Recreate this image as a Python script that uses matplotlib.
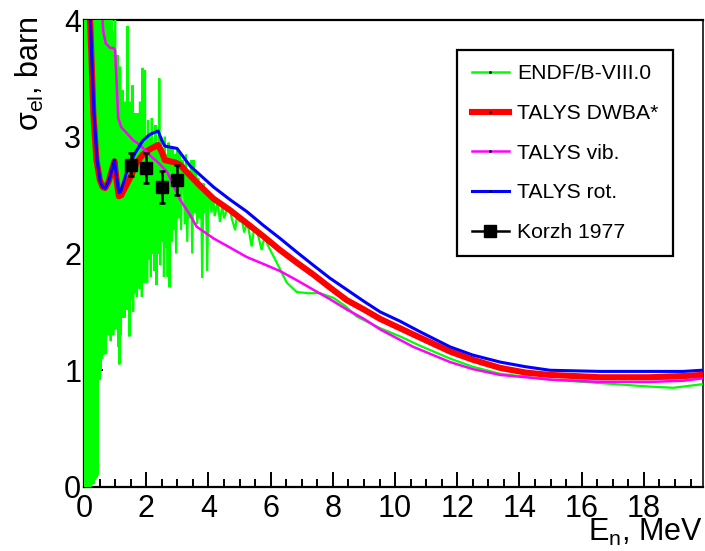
import matplotlib
matplotlib.use("Agg")
import matplotlib.pyplot as plt
from matplotlib.lines import Line2D
from matplotlib.ticker import MultipleLocator

plt.rcParams['font.family'] = ['Liberation Sans', 'DejaVu Sans']
plt.rcParams['mathtext.fontset'] = 'custom'
plt.rcParams['mathtext.rm'] = 'Liberation Sans'
plt.rcParams['mathtext.it'] = 'Liberation Sans:italic'

# ---------------- data ----------------
endf_E = [0.00, 0.02, 0.04, 0.06, 0.08, 0.10, 0.12, 0.14, 0.16, 0.18, 0.20, 0.22,
          0.24, 0.26, 0.28, 0.30, 0.32, 0.34, 0.36, 0.38, 0.40, 0.42, 0.44, 0.46,
          0.48, 0.50, 0.52, 0.54, 0.56, 0.58, 0.60, 0.62, 0.64, 0.66, 0.68, 0.70,
          0.72, 0.74, 0.76, 0.78, 0.80, 0.82, 0.84, 0.86, 0.88, 0.90, 0.92, 0.94,
          0.96, 0.98, 1.00, 1.02, 1.04, 1.06, 1.08, 1.10, 1.12, 1.14, 1.16, 1.18,
          1.20, 1.22, 1.24, 1.26, 1.28, 1.30, 1.32, 1.34, 1.36, 1.38, 1.40, 1.42,
          1.44, 1.46, 1.48, 1.50, 1.52, 1.54, 1.56, 1.58, 1.60, 1.62, 1.64, 1.66,
          1.68, 1.70, 1.72, 1.74, 1.76, 1.78, 1.80, 1.82, 1.84, 1.86, 1.88, 1.90,
          1.92, 1.94, 1.96, 1.98, 2.00, 2.03, 2.06, 2.09, 2.12, 2.15, 2.18, 2.21,
          2.24, 2.27, 2.30, 2.33, 2.36, 2.39, 2.42, 2.45, 2.48, 2.51, 2.54, 2.57,
          2.60, 2.63, 2.66, 2.69, 2.72, 2.75, 2.78, 2.81, 2.84, 2.88, 2.92, 2.96,
          3.00, 3.04, 3.08, 3.12, 3.16, 3.20, 3.24, 3.28, 3.32, 3.36, 3.40, 3.44,
          3.48, 3.52, 3.56, 3.60, 3.64, 3.68, 3.72, 3.76, 3.80, 3.84, 3.88, 3.92,
          3.96, 4.00, 4.05, 4.10, 4.15, 4.20, 4.30, 4.37, 4.45, 4.50, 4.60, 4.69,
          4.75, 4.86, 4.92, 5.00, 5.07, 5.15, 5.25, 5.39, 5.47, 5.55, 5.63, 5.71,
          5.80, 5.93, 6.20, 6.52, 6.84, 7.20, 7.59, 8.02, 8.40, 8.77, 9.52, 10.16,
          10.8, 11.77, 12.5, 13.38, 14.98, 16.59, 18.2, 18.95, 19.86]
endf_xs = [0.00, 4.60, 0.00, 4.60, 0.02, 4.60, 0.00, 4.60, 0.03, 4.60, 0.00, 4.60,
           0.02, 4.60, 0.05, 4.60, 0.03, 4.60, 0.06, 4.60, 0.08, 4.60, 0.10, 4.60,
           4.40, 0.92, 4.20, 1.00, 4.30, 1.10, 3.90, 1.13, 4.20, 1.20, 3.80, 1.14,
           4.10, 1.35, 3.60, 1.30, 4.00, 1.45, 3.70, 1.25, 4.10, 1.50, 3.50, 1.30,
           3.90, 1.60, 4.00, 1.35, 3.40, 1.50, 3.70, 1.20, 3.30, 1.05, 3.60, 1.30,
           3.20, 1.45, 3.40, 1.60, 3.00, 1.45, 3.30, 1.70, 2.90, 1.52, 3.95, 1.80,
           3.10, 1.29, 3.30, 1.60, 3.00, 1.75, 3.44, 1.50, 3.10, 1.66, 3.20, 1.90,
           3.00, 1.63, 3.20, 1.85, 2.90, 1.70, 3.30, 1.90, 3.00, 1.63, 3.59, 1.80,
           3.10, 1.75, 3.57, 1.90, 3.00, 1.75, 3.14, 1.95, 3.00, 1.80, 3.16, 2.00,
           2.95, 1.85, 3.10, 1.73, 2.90, 2.00, 3.50, 1.90, 3.00, 2.10, 2.90, 1.80,
           3.00, 2.05, 2.85, 1.80, 2.95, 1.71, 2.90, 2.10, 2.90, 2.20, 2.85, 2.00,
           2.90, 2.30, 2.86, 2.20, 2.80, 2.75, 2.25, 2.85, 2.10, 2.70, 2.30, 2.80,
           2.00, 2.80, 2.35, 2.70, 2.25, 2.65, 2.30, 2.60, 1.79, 2.60, 2.35, 2.55,
           1.85, 2.50, 2.48, 2.35, 2.50, 2.32, 2.45, 2.27, 2.42, 2.30, 2.38, 2.39,
           2.30, 2.20, 2.33, 2.27, 2.30, 2.18, 2.27, 2.06, 2.22, 2.20, 2.12, 2.03,
           2.14, 2.06, 1.92, 1.75, 1.67, 1.66, 1.66, 1.62, 1.55, 1.46, 1.36, 1.29,
           1.21, 1.10, 1.03, 0.97, 0.92, 0.89, 0.86, 0.85, 0.88]

dwba_E = [0.19, 0.25, 0.30, 0.40, 0.51, 0.60, 0.68, 0.80, 0.90, 0.98, 1.05, 1.12,
          1.20, 1.35, 1.54, 1.70, 1.90, 2.10, 2.38, 2.50, 2.60, 2.93, 3.09, 3.40,
          3.73, 4.16, 4.70, 5.23, 5.80, 6.30, 6.85, 7.37, 7.90, 8.45, 9.00, 9.52,
          10.16, 10.8, 11.77, 12.5, 13.38, 14.2, 14.98, 16.59, 18.2, 19.26, 19.86]
dwba_xs = [4.05, 3.60, 3.20, 2.80, 2.63, 2.57, 2.56, 2.62, 2.72, 2.79, 2.62, 2.49,
           2.50, 2.58, 2.68, 2.78, 2.85, 2.89, 2.93, 2.87, 2.80, 2.78, 2.76, 2.67,
           2.58, 2.47, 2.37, 2.26, 2.14, 2.03, 1.92, 1.82, 1.71, 1.60, 1.52, 1.44,
           1.36, 1.28, 1.16, 1.09, 1.02, 0.98, 0.96, 0.94, 0.94, 0.95, 0.96]

vib_E = [0.58, 0.62, 0.70, 0.84, 0.95, 1.00, 1.05, 1.10, 1.20, 1.38, 1.58, 1.80,
         2.12, 2.38, 2.67, 3.09, 3.41, 3.62, 4.16, 4.70, 5.23, 5.77, 6.30, 6.85,
         7.37, 7.90, 8.45, 9.00, 9.52, 10.16, 10.59, 11.77, 12.5, 13.38, 14.2,
         14.98, 16.59, 18.2, 19.26, 19.86]
vib_xs = [4.05, 3.90, 3.80, 3.76, 3.76, 3.74, 3.45, 3.16, 3.08, 3.03, 2.97, 2.93,
          2.84, 2.78, 2.70, 2.46, 2.33, 2.23, 2.13, 2.05, 1.97, 1.91, 1.85, 1.77,
          1.69, 1.61, 1.52, 1.44, 1.35, 1.26, 1.20, 1.07, 1.01, 0.96, 0.94,
          0.92, 0.90, 0.90, 0.91, 0.93]

rot_E = [0.20, 0.26, 0.32, 0.42, 0.52, 0.60, 0.68, 0.80, 0.90, 0.98, 1.05, 1.12,
         1.18, 1.35, 1.50, 1.64, 1.90, 2.12, 2.38, 2.50, 2.60, 2.99, 3.41, 4.16,
         4.70, 5.23, 5.77, 6.30, 6.85, 7.37, 7.90, 8.45, 9.00, 9.52, 10.16, 10.8,
         11.77, 12.5, 13.38, 14.2, 14.98, 16.59, 18.2, 19.26, 19.86]
rot_xs = [4.05, 3.60, 3.20, 2.80, 2.62, 2.57, 2.56, 2.62, 2.72, 2.80, 2.65, 2.52,
          2.53, 2.68, 2.78, 2.86, 2.97, 3.02, 3.05, 2.97, 2.92, 2.90, 2.75, 2.57,
          2.46, 2.36, 2.24, 2.13, 2.01, 1.90, 1.79, 1.69, 1.59, 1.50, 1.42, 1.33,
          1.20, 1.13, 1.07, 1.03, 1.00, 0.99, 0.99, 0.99, 1.00]

korzh_E = [1.5, 2.0, 2.5, 3.0]
korzh_xs = [2.76, 2.73, 2.57, 2.63]
korzh_err = [0.10, 0.13, 0.14, 0.13]

labels = ["ENDF/B-VIII.0", "TALYS DWBA*", "TALYS vib.", "TALYS rot.", "Korzh 1977"]
colors = ["#00ff00", "#ff0000", "#ff00ff", "#0000ff", "#000000"]
x_ticks = [0, 2, 4, 6, 8, 10, 12, 14, 16, 18]
y_ticks = [0, 1, 2, 3, 4]

# ---------------- figure ----------------
fig = plt.figure(figsize=(7.05, 5.51), dpi=100)
ax = fig.add_axes([84 / 705, 1 - 487 / 551, 619 / 705, 467 / 551])

ax.plot(endf_E, endf_xs, color=colors[0], lw=1.6, zorder=2, solid_joinstyle='miter')
ax.plot(dwba_E, dwba_xs, color=colors[1], lw=4.4, zorder=3)
ax.plot(vib_E, vib_xs, color=colors[2], lw=1.8, zorder=4)
ax.plot(rot_E, rot_xs, color=colors[3], lw=2.2, zorder=5)
ax.errorbar(korzh_E, korzh_xs, yerr=korzh_err, fmt='s', color='black',
            ms=8.5, elinewidth=1.8, capsize=2.2, capthick=1.8, zorder=6)

ax.set_xlim(0, 19.9)
ax.set_ylim(0, 4)
ax.set_xticks(x_ticks)
ax.set_yticks(y_ticks)
ax.xaxis.set_minor_locator(MultipleLocator(0.5))
ax.yaxis.set_minor_locator(MultipleLocator(0.2))
ax.tick_params(axis='both', which='both', direction='in', top=False, right=False,
               labelsize=22, width=1.4, color='black')
ax.tick_params(axis='x', which='major', length=11, pad=5)
ax.tick_params(axis='x', which='minor', length=5.5)
ax.tick_params(axis='y', which='major', length=14, pad=2)
ax.tick_params(axis='y', which='minor', length=7)
ax.set_axisbelow(True)
for side in ['left', 'bottom', 'top']:
    ax.spines[side].set_linewidth(1.6)
    ax.spines[side].set_color('black')
ax.spines['right'].set_linewidth(1.4)
ax.spines['right'].set_color('#333333')
for sp in ax.spines.values():
    sp.set_zorder(1)

fig.text(30 / 705, 1 - 16 / 551, r'σ$_{\rm el}$, barn', rotation=90,
         ha='center', va='top', fontsize=22)
fig.text(703 / 705, 1 - 548 / 551, r'E$_{\rm n}$, MeV', ha='right', va='bottom',
         fontsize=22)

handles = [
    Line2D([], [], color=colors[0], lw=1.8, marker='.', ms=2, mfc='k', mec='k'),
    Line2D([], [], color=colors[1], lw=4.4, marker='.', ms=2, mfc='k', mec='k'),
    Line2D([], [], color=colors[2], lw=1.8, marker='.', ms=2, mfc='k', mec='k'),
    Line2D([], [], color=colors[3], lw=2.2, marker='.', ms=2, mfc='k', mec='k'),
    Line2D([], [], color=colors[4], lw=1.8, marker='s', ms=8),
]
leg = ax.legend(handles, labels, loc='upper left', bbox_to_anchor=(0.603, 0.936),
                fontsize=15.2, frameon=True, fancybox=False, edgecolor='black',
                framealpha=1, handlelength=1.75, handletextpad=0.4,
                labelspacing=0.98, borderpad=0.68, borderaxespad=0.0)
leg.get_frame().set_linewidth(1.6)
leg.set_zorder(10)

fig.savefig("out.png", dpi=100)
